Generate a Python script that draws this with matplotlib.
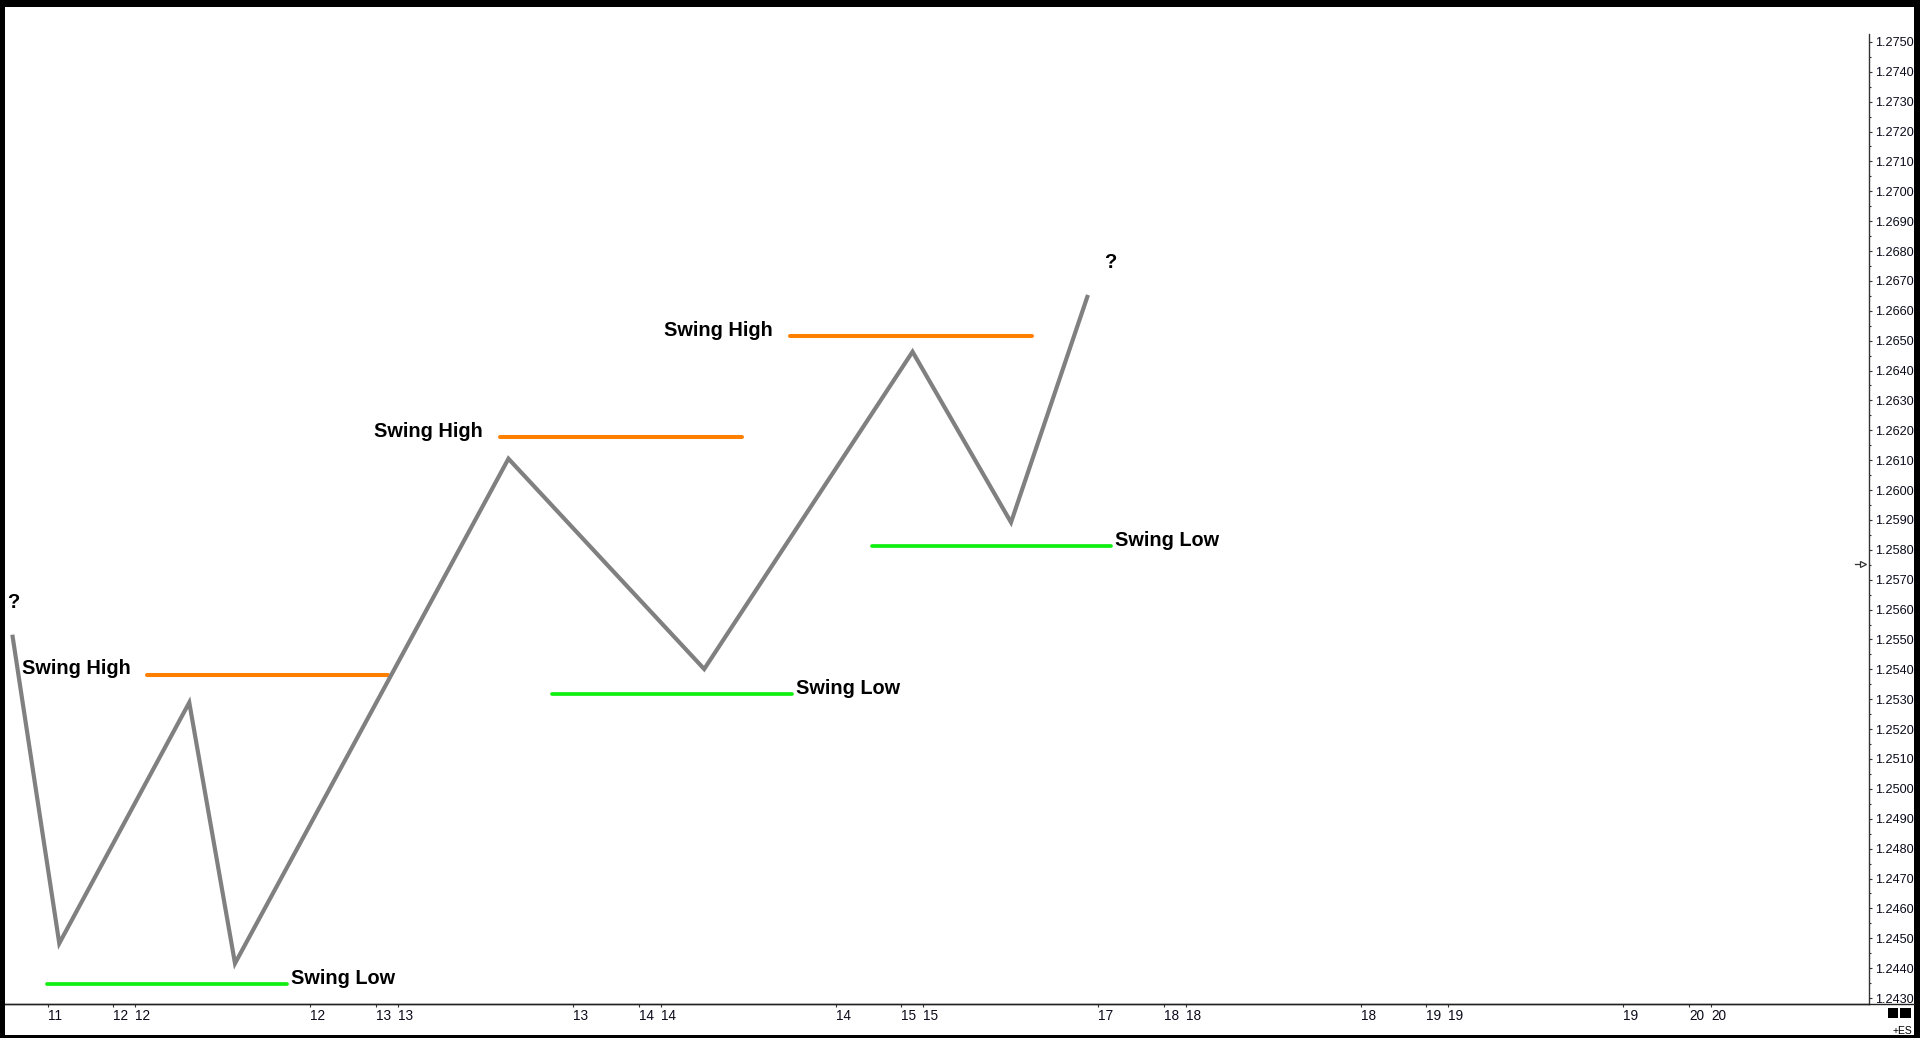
import matplotlib
matplotlib.use('Agg')
import matplotlib.pyplot as plt
from matplotlib.ticker import MultipleLocator, FormatStrFormatter
from matplotlib.patches import Rectangle
from matplotlib.lines import Line2D
from matplotlib import font_manager

plt.rcParams['font.family'] = ['Liberation Sans', 'DejaVu Sans']

# ---------------- data ----------------
# zigzag price path (x in hours from first tick, price)
swing_x = [-3.24, 1.05, 12.93, 17.11, 42.10, 59.99, 79.03, 88.03, 95.06]
swing_price = [1.25516, 1.24483, 1.25289, 1.24416, 1.26105, 1.25401, 1.26463, 1.25892, 1.26653]

# swing-high levels (orange): start hour, end hour, price
high_start = [9.09, 41.31, 67.83]
high_end = [31.12, 63.43, 89.91]
high_price = [1.25382, 1.26177, 1.26514]

# swing-low levels (green)
low_start = [-0.10, 46.12, 75.32]
low_end = [21.83, 67.98, 97.13]
low_price = [1.24347, 1.25318, 1.25814]

# question marks
q_x = [-3.15, 97.07]
q_price = [1.25623, 1.26762]

# x-axis ticks
tick_hours = [0, 6, 8, 24, 30, 32, 48, 54, 56, 72, 78, 80, 96, 102, 104, 120, 126, 128, 144, 150, 152]
tick_labels = ['11', '12', '12', '12', '13', '13', '13', '14', '14', '14', '15', '15',
               '17', '18', '18', '18', '19', '19', '19', '20', '20']

# axis ranges
x_min, x_max = -3.91, 166.44
y_min, y_max = 1.24280, 1.275264
marker_price = 1.25754

# ---------------- figure ----------------
W, H = 1920, 1038
fig = plt.figure(figsize=(W / 100, H / 100), dpi=100, facecolor='black')
fig.patches.append(Rectangle((5 / W, 3 / H), (1914 - 5) / W, (1031 - 3) / H,
                             transform=fig.transFigure, facecolor='white',
                             edgecolor='none', zorder=-5))

ax = fig.add_axes([5 / W, 34 / H, 1864 / W, 970 / H])
ax.set_zorder(2)
ax.set_facecolor('white')
ax.set_xlim(x_min, x_max)
ax.set_ylim(y_min, y_max)

for s in ['top', 'left']:
    ax.spines[s].set_visible(False)
ax.spines['bottom'].set_color('#222222')
ax.spines['bottom'].set_linewidth(1.0)
ax.spines['right'].set_color('#333333')
ax.spines['right'].set_linewidth(1.0)

# extend x-axis line to the right border
fig.add_artist(Line2D([5 / W, 1914 / W], [34 / H, 34 / H], transform=fig.transFigure,
                      color='#222222', lw=1.0, zorder=3))

# y axis on the right
ax.yaxis.tick_right()
ax.yaxis.set_major_locator(MultipleLocator(0.001))
ax.yaxis.set_minor_locator(MultipleLocator(0.0005))
ax.yaxis.set_major_formatter(FormatStrFormatter('%.4f'))
ax.tick_params(axis='y', which='major', direction='out', length=2.4, width=0.8,
               pad=1.7, labelsize=9.1, color='#333333', labelcolor='#0a0a1a')
ax.tick_params(axis='y', which='minor', direction='out', length=1.4, width=0.8,
               color='#333333')

# x axis
narrow = [f.name for f in font_manager.fontManager.ttflist if 'Narrow' in f.name]
x_family = ['Liberation Sans Narrow', 'Liberation Sans'] if narrow else ['Liberation Sans']
ax.set_xticks(tick_hours)
ax.set_xticklabels(tick_labels, ha='left', family=x_family)
ax.tick_params(axis='x', which='major', direction='out', length=2.4, width=0.8,
               pad=1.2, labelsize=9.8 if narrow else 9.3, color='#333333',
               labelcolor='#0a0a1a')

# price path
ax.plot(swing_x, swing_price, color='#808080', lw=3.0, solid_joinstyle='miter',
        solid_capstyle='butt', zorder=3)

# swing highs
for xs, xe, p in zip(high_start, high_end, high_price):
    ax.plot([xs, xe], [p, p], color='#FF8000', lw=2.9, solid_capstyle='round', zorder=2)
    ax.annotate('Swing High', xy=(xs, p), xytext=(-12.2, 4.3), textcoords='offset points',
                ha='right', va='center', fontsize=14.3, fontweight='bold', color='black')

# swing lows
for xs, xe, p in zip(low_start, low_end, low_price):
    ax.plot([xs, xe], [p, p], color='#11EE11', lw=2.7, solid_capstyle='round', zorder=2)
    ax.annotate('Swing Low', xy=(xe, p), xytext=(3.3, 4.0), textcoords='offset points',
                ha='left', va='center', fontsize=14.3, fontweight='bold', color='black')

# question marks
for qx, qp in zip(q_x, q_price):
    ax.text(qx, qp, '?', ha='center', va='center', fontsize=14.5, fontweight='bold',
            color='black')

# small price marker at the y axis
trans = ax.get_yaxis_transform()
ax.plot([0.9925, 0.9952], [marker_price, marker_price], transform=trans, color='#333333',
        lw=0.9, clip_on=False, zorder=4)
ax.plot([0.9966], [marker_price], transform=trans, marker='>', markersize=5,
        mfc='white', mec='#333333', mew=0.9, clip_on=False, zorder=5)

# bottom-right widgets
fig.patches.append(Rectangle((1888 / W, 20 / H), 10 / W, 10.5 / H, transform=fig.transFigure,
                             facecolor='black', edgecolor='none', zorder=3))
fig.patches.append(Rectangle((1900 / W, 20 / H), 11 / W, 10.5 / H, transform=fig.transFigure,
                             facecolor='black', edgecolor='none', zorder=3))
fig.text(1912.5 / W, 7.5 / H, '+ES', ha='right', va='center', fontsize=7.5, color='black',
         zorder=3)

fig.savefig('out.png', dpi=100, facecolor=fig.get_facecolor())
